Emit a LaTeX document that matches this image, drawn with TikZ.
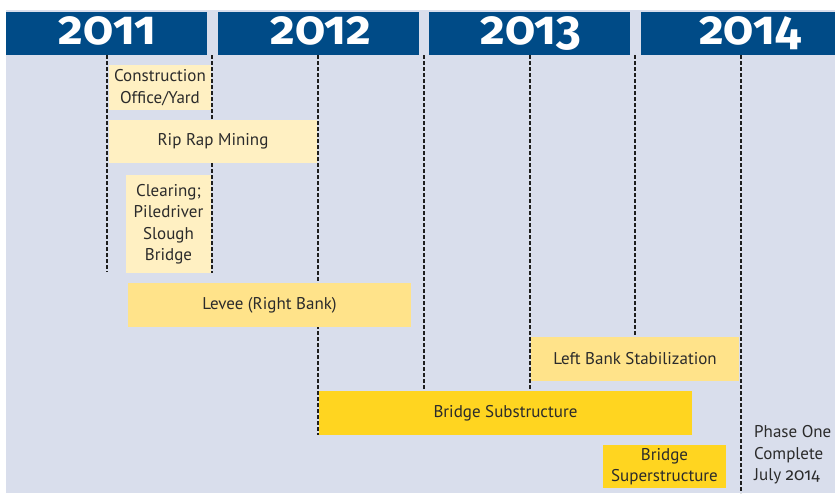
\documentclass[tikz,border=0pt]{standalone}
\usepackage{fontspec}
\setmainfont{PT Sans}
\newfontfamily\yearfont[Numbers=OldStyle]{Fira Sans}

\definecolor{bgblue}{HTML}{D9DEEC}
\definecolor{headblue}{HTML}{004B87}
\definecolor{dashgray}{HTML}{1E1E1E}
\definecolor{textgray}{HTML}{2B2B2B}
\definecolor{palebar}{HTML}{FFF0C2}
\definecolor{midbar}{HTML}{FFE38A}
\definecolor{fullbar}{HTML}{FFD520}

\begin{document}
\begin{tikzpicture}[x=1pt,y=-1pt,
	quarter/.style={draw=dashgray,line width=2.4pt,dash pattern=on 3.5pt off 2.5pt},
	year/.style={anchor=base,text=white,inner sep=0pt,font=\yearfont\bfseries\fontsize{48}{48}\selectfont},
	task/.style={align=center,inner sep=0pt,text=textgray,font=\fontsize{17}{21.5}\selectfont}]
	
	\useasboundingbox (0,0) rectangle (835,493);
	\fill[bgblue] (6,10) rectangle (835,493);
	
	% year bars
	\fill[headblue] (6,12) rectangle (207,55);
	\fill[headblue] (218,12) rectangle (419,55);
	\fill[headblue] (429,12) rectangle (630,55);
	\fill[headblue] (641,12) rectangle (835,55);
	\node[year] (y2011) at (107.5,44) {2011};
	\node[year] (y2012) at (321,44) {2012};
	\node[year] (y2013) at (531,44) {2013};
	\node[year] (y2014) at (750,44) {2014};
	
	% quarter lines
	\foreach \qx/\qend in {107/272,212/273,318/435,424/391,530/391,635/337,741/493}
		\draw[quarter] (\qx,55) -- (\qx,\qend);
	
	% tasks
	\node[task,fill=palebar,minimum width=102pt,minimum height=45pt] (office) at (160,87.5) {Construction\\Office/Yard};
	\node[task,fill=palebar,minimum width=208pt,minimum height=43pt] (riprap) at (213,141.5) {Rip Rap Mining};
	\node[task,fill=palebar,minimum width=85pt,minimum height=98pt] (clearing) at (168.5,224) {Clearing;\\Piledriver\\Slough\\Bridge};
	\node[task,fill=midbar,minimum width=283pt,minimum height=44pt] (levee) at (269.5,305) {Levee (Right Bank)};
	\node[task,fill=midbar,minimum width=208pt,minimum height=44pt] (leftbank) at (635,359) {Left Bank Stabilization};
	\node[task,fill=fullbar,minimum width=373pt,minimum height=44pt] (substr) at (505.5,413) {Bridge Substructure};
	\node[task,fill=fullbar,minimum width=123pt,minimum height=43pt] (superstr) at (664.5,466.5) {Bridge\\Superstructure};
	
	\node[task,align=left,anchor=west] (phaseone) at (754,455) {Phase One\\Complete\\July {\yearfont 2014}};
	
\end{tikzpicture}
\end{document}
